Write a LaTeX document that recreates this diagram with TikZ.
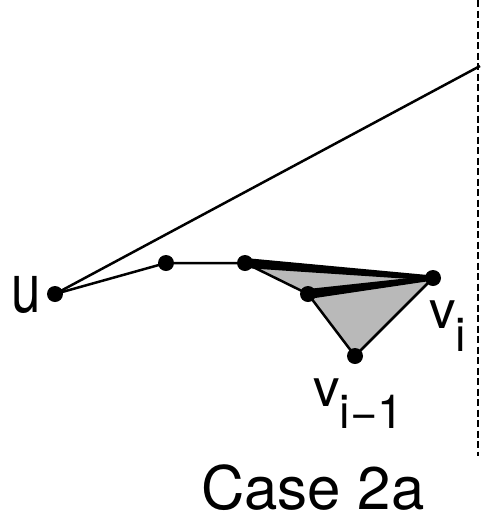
\documentclass[tikz,border=0pt]{standalone}
\usepackage{fontspec}
\setmainfont{TeX Gyre Heros}
\usetikzlibrary{calc}
\begin{document}
\begin{tikzpicture}[x=1pt,y=-1pt,
  dot/.style={circle,fill=black,inner sep=0pt,minimum size=16pt},
  edge/.style={line width=2.5pt,black},
  lbl/.style={inner sep=0pt,anchor=base west}]
\useasboundingbox (0,0) rectangle (485,523);
% points
\coordinate (u) at (55,294);
\coordinate (p1) at (166,263);
\coordinate (p2) at (245,263);
\coordinate (p3) at (308,294);
\coordinate (vi) at (433,278);
\coordinate (vim) at (355,356);
\coordinate (top) at (478,0);
\coordinate (bot) at (478,456);
\coordinate (hit) at (480,66);
% shaded region
\fill[gray!55] (p2) -- (vi) -- (vim) -- (p3) -- cycle;
% thin edges
\draw[edge] (u) -- (hit);
\draw[edge] (u) -- (p1) -- (p2) -- (p3) -- (vim) -- (vi);
% thick wedges
\fill[black] ($(p2)!5pt!90:(vi)$) -- ($(vi)!2.5pt!-90:(p2)$) -- ($(vi)!2.5pt!90:(p2)$) -- ($(p2)!5pt!-90:(vi)$) -- cycle;
\fill[black] ($(p3)!5pt!90:(vi)$) -- ($(vi)!2.5pt!-90:(p3)$) -- ($(vi)!2.5pt!90:(p3)$) -- ($(p3)!5pt!-90:(vi)$) -- cycle;
% dashed boundary
\draw[line width=2.8pt,dash pattern=on 7pt off 3.5pt] (top) -- (bot);
% dots
\foreach \p in {u,p1,p2,p3,vi,vim} \node[dot] (d\p) at (\p) {};
% labels
\node[lbl,yscale=1.3] (lu) at (11,312) {\fontsize{53}{53}\selectfont u};
\node[lbl] (lvi) at (429,328) {\fontsize{53}{53}\selectfont v\raisebox{-23pt}{\fontsize{47}{47}\selectfont i}};
\node[lbl] (lvim) at (313,406) {\fontsize{53}{53}\selectfont v\raisebox{-22pt}{\fontsize{47}{47}\selectfont i\char"2212 1}};
\node[lbl] (case) at (201,509) {\fontsize{60}{60}\selectfont Case 2a};
\end{tikzpicture}
\end{document}
